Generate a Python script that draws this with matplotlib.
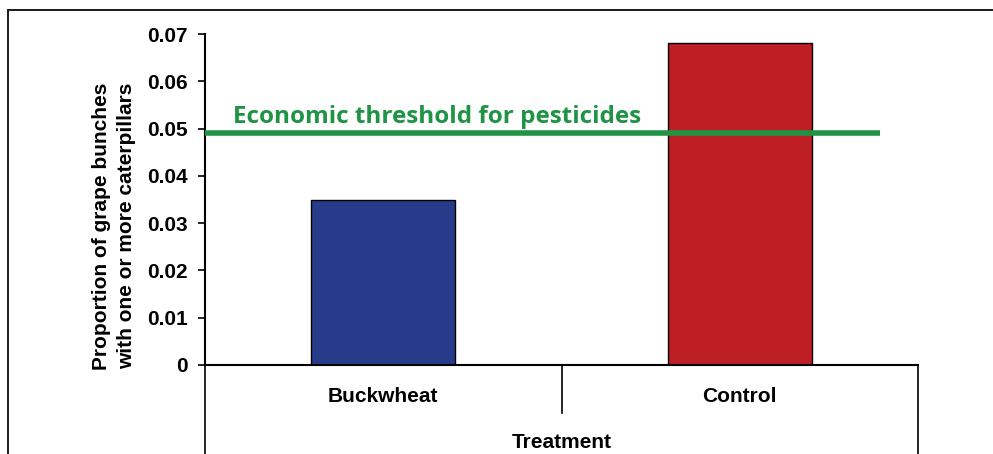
import matplotlib.pyplot as plt
from matplotlib.patches import Rectangle
from matplotlib.transforms import blended_transform_factory

# proportion of grape bunches with >= 1 caterpillar, per treatment
treatments = ['Buckwheat', 'Control']
proportions = [0.035, 0.068]
threshold = 0.049
yticks = [0, 0.01, 0.02, 0.03, 0.04, 0.05, 0.06, 0.07]

bar_colors = ['#263c8a', '#be1f25']
green = '#1f9444'

plt.rcParams['font.family'] = ['Liberation Sans', 'DejaVu Sans']
plt.rcParams['font.weight'] = 'bold'

fig = plt.figure(figsize=(9.93, 4.54), dpi=100)
# chart border, runs off the right/bottom edge
fig.patches.append(Rectangle((8 / 993, -0.1), 1.2, 1 - 10 / 454 + 0.1,
                             transform=fig.transFigure, fill=False,
                             edgecolor='#1a1a1a', linewidth=1.4))

ax = fig.add_axes([205 / 993, 1 - 365 / 454, 713 / 993, 331 / 454])
x = list(range(len(treatments)))
ax.bar(x, proportions, width=0.404, color=bar_colors, edgecolor='black',
       linewidth=1.0, zorder=2)
ax.set_xlim(-0.5, len(treatments) - 0.5)
ax.set_ylim(0, 0.07)

for s in ['top', 'right']:
    ax.spines[s].set_visible(False)
for s in ['left', 'bottom']:
    ax.spines[s].set_linewidth(1.5)

ax.set_yticks(yticks)
ax.set_yticklabels(['0' if v == 0 else f'{v:.2f}' for v in yticks],
                   fontsize=15, fontweight='bold')
ax.tick_params(axis='y', direction='out', length=5, width=1.2, pad=7.5)
ax.set_xticks([])

# threshold line and its label
ax.plot([-0.5, 1.393], [threshold, threshold], color=green, linewidth=4,
        solid_capstyle='butt', zorder=3, clip_on=False)
ax.text(-0.421, 0.0511, 'Economic threshold for pesticides', color=green,
        fontsize=17.5, fontweight='bold', family=['Open Sans', 'DejaVu Sans'],
        va='baseline', ha='left')

# two-level category axis below the plot
trans = blended_transform_factory(ax.transData, ax.transAxes)
depth = (454 - 365) / 331
mid = (413 - 365) / 331
ax.plot([-0.5, -0.5], [0, -depth - 0.05], color='black', lw=1.2,
        transform=trans, clip_on=False)
ax.plot([1.5, 1.5], [0, -depth - 0.05], color='black', lw=1.2,
        transform=trans, clip_on=False)
ax.plot([0.5, 0.5], [0, -mid], color='black', lw=1.2,
        transform=trans, clip_on=False)
for xi, name in zip(x, treatments):
    ax.text(xi, -(397 - 365) / 331, name, transform=trans, ha='center',
            va='center', fontsize=15, fontweight='bold')
ax.text(0.5, -(443 - 365) / 331, 'Treatment', transform=trans, ha='center',
        va='center', fontsize=15, fontweight='bold')

fig.text(114 / 993, 1 - 226 / 454,
         'Proportion of grape bunches\nwith one or more caterpillars',
         rotation=90, ha='center', va='center', fontsize=15,
         fontweight='bold', linespacing=1.45)

fig.savefig('out.png', dpi=100)
